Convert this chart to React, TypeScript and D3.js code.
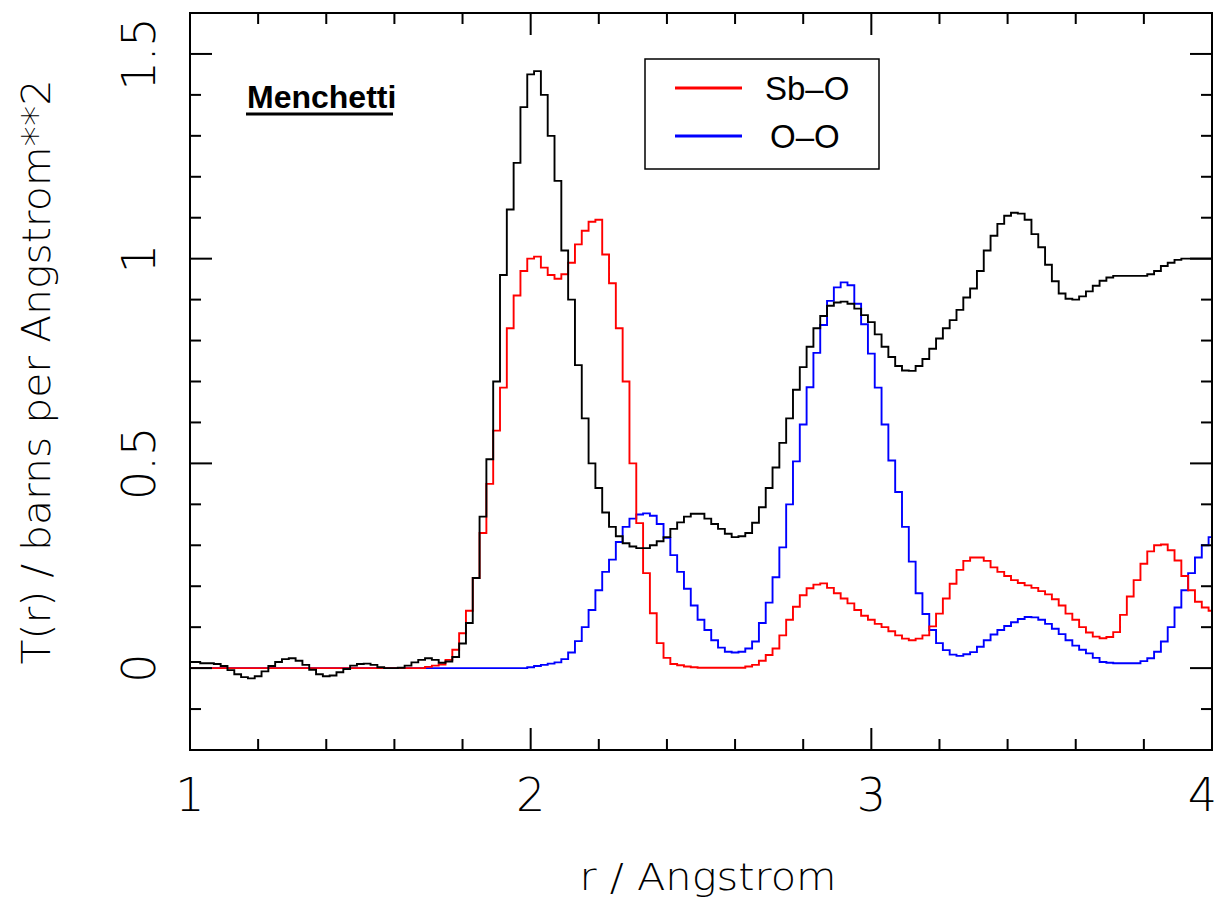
import { useEffect, useRef } from "react";
import * as d3 from "d3";

// r grid: 1.00 .. 4.00 step 0.02 (151 points)
const rStart = 1.0;
const rStep = 0.02;

// total T(r) (black)
const totalT = [
  0.015, 0.015, 0.012, 0.012, 0.010, 0.005, -0.005, -0.015, -0.022, -0.025,
  -0.020, -0.008, 0.005, 0.015, 0.022, 0.024, 0.018, 0.008, -0.004, -0.015,
  -0.020, -0.018, -0.010, -0.002, 0.006, 0.010, 0.011, 0.008, 0.002, 0.000,
  0.000, 0.001, 0.006, 0.014, 0.020, 0.024, 0.020, 0.013, 0.016, 0.027,
  0.06, 0.11, 0.22, 0.37, 0.51, 0.70, 0.96, 1.12, 1.234, 1.37,
  1.45, 1.458, 1.40, 1.30, 1.19, 1.02, 0.90, 0.74, 0.61, 0.50,
  0.44, 0.38, 0.345, 0.322, 0.305, 0.297, 0.293, 0.293, 0.300, 0.31,
  0.32, 0.34, 0.356, 0.37, 0.377, 0.377, 0.365, 0.352, 0.34, 0.328,
  0.320, 0.322, 0.33, 0.355, 0.393, 0.44, 0.49, 0.55, 0.61, 0.68,
  0.735, 0.785, 0.83, 0.86, 0.885, 0.893, 0.895, 0.89, 0.878, 0.862,
  0.845, 0.815, 0.785, 0.76, 0.738, 0.727, 0.726, 0.738, 0.755, 0.78,
  0.805, 0.83, 0.85, 0.875, 0.905, 0.927, 0.97, 1.02, 1.056, 1.085,
  1.105, 1.112, 1.11, 1.095, 1.06, 1.028, 0.985, 0.945, 0.915, 0.902,
  0.90, 0.908, 0.92, 0.934, 0.946, 0.954, 0.958, 0.958, 0.958, 0.958,
  0.958, 0.962, 0.97, 0.982, 0.99, 0.997, 1.0, 1.0, 1.0, 1.0,
  1.0,
];

// Sb-O partial (red)
const sbO = [
  0, 0, 0, 0, 0, 0, 0, 0, 0, 0,
  0, 0, 0, 0, 0, 0, 0, 0, 0, 0,
  0, 0, 0, 0, 0, 0, 0, 0, 0, 0,
  0, 0, 0, 0, 0, 0.003, 0.006, 0.009, 0.02, 0.045,
  0.085, 0.14, 0.22, 0.33, 0.45, 0.58, 0.685, 0.83, 0.91, 0.97,
  1.0, 1.005, 0.978, 0.96, 0.951, 0.962, 0.99, 1.035, 1.068, 1.09,
  1.095, 1.01, 0.94, 0.83, 0.70, 0.50, 0.354, 0.232, 0.134, 0.061,
  0.025, 0.01, 0.007, 0.004, 0.002, 0.001, 0.001, 0.001, 0.001, 0.001,
  0.001, 0.001, 0.004, 0.008, 0.018, 0.032, 0.048, 0.08, 0.118, 0.15,
  0.178, 0.195, 0.204, 0.207, 0.196, 0.183, 0.17, 0.158, 0.142, 0.128,
  0.118, 0.108, 0.1, 0.09, 0.08, 0.072, 0.068, 0.072, 0.08, 0.102,
  0.133, 0.17, 0.206, 0.24, 0.262, 0.27, 0.27, 0.262, 0.246, 0.235,
  0.225, 0.215, 0.208, 0.202, 0.196, 0.188, 0.18, 0.168, 0.153, 0.133,
  0.118, 0.1, 0.087, 0.077, 0.073, 0.076, 0.088, 0.13, 0.175, 0.215,
  0.255, 0.285, 0.3, 0.302, 0.288, 0.263, 0.225, 0.19, 0.162, 0.148,
  0.14,
];

// O-O partial (blue)
const oO = [
  0, 0, 0, 0, 0, 0, 0, 0, 0, 0,
  0, 0, 0, 0, 0, 0, 0, 0, 0, 0,
  0, 0, 0, 0, 0, 0, 0, 0, 0, 0,
  0, 0, 0, 0, 0, 0, 0, 0, 0, 0,
  0, 0, 0, 0, 0, 0, 0, 0, 0, 0,
  0.002, 0.005, 0.008, 0.011, 0.014, 0.022, 0.038, 0.066, 0.1, 0.142,
  0.19, 0.235, 0.265, 0.308, 0.345, 0.365, 0.375, 0.378, 0.372, 0.352,
  0.318, 0.276, 0.235, 0.194, 0.153, 0.118, 0.093, 0.068, 0.05, 0.04,
  0.038, 0.04, 0.048, 0.065, 0.11, 0.16, 0.222, 0.295, 0.40, 0.505,
  0.595, 0.686, 0.77, 0.838, 0.897, 0.93, 0.942, 0.935, 0.89, 0.84,
  0.768, 0.685, 0.595, 0.507, 0.43, 0.345, 0.26, 0.183, 0.132, 0.093,
  0.061, 0.044, 0.033, 0.03, 0.034, 0.039, 0.052, 0.068, 0.082, 0.093,
  0.103, 0.112, 0.12, 0.125, 0.124, 0.118, 0.108, 0.096, 0.083, 0.068,
  0.055, 0.045, 0.036, 0.025, 0.015, 0.013, 0.012, 0.012, 0.012, 0.012,
  0.017, 0.024, 0.04, 0.065, 0.1, 0.148, 0.19, 0.232, 0.27, 0.3,
  0.32,
];

const xTickLabels = [1, 2, 3, 4];
const yTickLabels = [0, 0.5, 1, 1.5];
const legendItems = [
  { label: "Sb\u2013O", color: "#ff0000" },
  { label: "O\u2013O", color: "#0000ff" },
];

const W = 1219;
const H = 898;
const margin = { left: 190, right: 7, top: 13, bottom: 148 };

const App = () => {
  const svgRef = useRef(null);

  useEffect(() => {
    const svg = d3.select(svgRef.current);
    svg.selectAll("*").remove();

    const x = d3.scaleLinear([1, 4], [margin.left, W - margin.right]);
    const y = d3.scaleLinear([-0.2, 1.6], [H - margin.bottom, margin.top]);

    const thinFont = "'DejaVu Sans', sans-serif";

    svg.append("rect").attr("width", W).attr("height", H).attr("fill", "white");

    // curves
    svg.append("clipPath").attr("id", "plotclip")
      .append("rect")
      .attr("x", x(1)).attr("y", y(1.6))
      .attr("width", x(4) - x(1)).attr("height", y(-0.2) - y(1.6));

    const line = d3.line()
      .x((d, i) => x(rStart + i * rStep))
      .y((d) => y(d))
      .curve(d3.curveStep);

    const series = [
      { values: oO, color: "#0000ff" },
      { values: sbO, color: "#ff0000" },
      { values: totalT, color: "#000000" },
    ];
    const curvesG = svg.append("g").attr("clip-path", "url(#plotclip)");
    series.forEach((s) => {
      curvesG.append("path")
        .attr("d", line(s.values))
        .attr("fill", "none")
        .attr("stroke", s.color)
        .attr("stroke-width", 1.9);
    });

    // frame
    svg.append("rect")
      .attr("x", x(1)).attr("y", y(1.6))
      .attr("width", x(4) - x(1)).attr("height", y(-0.2) - y(1.6))
      .attr("fill", "none")
      .attr("stroke", "#000")
      .attr("stroke-width", 2);

    // ticks
    const majorLen = 22;
    const minorLen = 11;
    const xTicks = d3.range(1, 4.0001, 0.2);
    const yTicks = d3.range(-0.2, 1.6001, 0.1);
    const isMajor = (v, step) => Math.abs(v / step - Math.round(v / step)) < 1e-6;
    const tickG = svg.append("g").attr("stroke", "#000").attr("stroke-width", 2);
    xTicks.forEach((t) => {
      const len = isMajor(t, 1) ? majorLen : minorLen;
      tickG.append("line").attr("x1", x(t)).attr("x2", x(t))
        .attr("y1", y(-0.2)).attr("y2", y(-0.2) - len);
      tickG.append("line").attr("x1", x(t)).attr("x2", x(t))
        .attr("y1", y(1.6)).attr("y2", y(1.6) + len);
    });
    yTicks.forEach((t) => {
      const len = isMajor(t, 0.5) ? majorLen : minorLen;
      tickG.append("line").attr("x1", x(1)).attr("x2", x(1) + len)
        .attr("y1", y(t)).attr("y2", y(t));
      tickG.append("line").attr("x1", x(4)).attr("x2", x(4) - len)
        .attr("y1", y(t)).attr("y2", y(t));
    });

    // tick labels (last one kept inside the page edge)
    svg.append("g")
      .selectAll("text")
      .data(xTickLabels)
      .join("text")
      .attr("x", (d) => (d === 4 ? W - 2 : x(d)))
      .attr("y", 811)
      .attr("text-anchor", (d) => (d === 4 ? "end" : "middle"))
      .style("font-family", thinFont)
      .style("font-weight", 200)
      .style("font-size", "46px")
      .text((d) => d);

    svg.append("g")
      .selectAll("text")
      .data(yTickLabels)
      .join("text")
      .attr("transform", (d) => `translate(155, ${y(d)}) rotate(-90)`)
      .attr("text-anchor", "middle")
      .style("font-family", thinFont)
      .style("font-weight", 200)
      .style("font-size", "46px")
      .text((d) => d);

    // axis titles
    svg.append("text")
      .attr("x", 708)
      .attr("y", 890)
      .attr("text-anchor", "middle")
      .attr("textLength", 257)
      .attr("lengthAdjust", "spacingAndGlyphs")
      .style("font-family", thinFont)
      .style("font-weight", 200)
      .style("font-size", "38px")
      .text("r / Angstrom");

    svg.append("text")
      .attr("transform", "translate(50, 372) rotate(-90)")
      .attr("text-anchor", "middle")
      .attr("textLength", 585)
      .attr("lengthAdjust", "spacingAndGlyphs")
      .style("font-family", thinFont)
      .style("font-weight", 200)
      .style("font-size", "39px")
      .text("T(r) / barns per Angstrom**2");

    // label
    svg.append("text")
      .attr("x", 247)
      .attr("y", 108)
      .style("font-family", "'Liberation Sans', Arial, sans-serif")
      .style("font-weight", "bold")
      .style("font-size", "32px")
      .text("Menchetti");
    svg.append("line")
      .attr("x1", 246).attr("x2", 393)
      .attr("y1", 114).attr("y2", 114)
      .attr("stroke", "#000").attr("stroke-width", 3);

    // legend
    const lg = svg.append("g");
    lg.append("rect")
      .attr("x", 645).attr("y", 59)
      .attr("width", 234).attr("height", 110)
      .attr("fill", "white")
      .attr("stroke", "#000")
      .attr("stroke-width", 1.5);
    legendItems.forEach((item, i) => {
      const ly = 88 + i * 48;
      lg.append("line")
        .attr("x1", 675).attr("x2", 742)
        .attr("y1", ly).attr("y2", ly)
        .attr("stroke", item.color)
        .attr("stroke-width", 3);
      lg.append("text")
        .attr("x", i === 0 ? 765 : 770)
        .attr("y", ly + 12)
        .style("font-family", "'Liberation Sans', Arial, sans-serif")
        .style("font-size", "33px")
        .text(item.label);
    });
  }, []);

  return (
    <div style={{ position: "absolute", left: 0, top: 0 }}>
      <svg ref={svgRef} width={W} height={H} style={{ display: "block" }}></svg>
    </div>
  );
};

export default App;
